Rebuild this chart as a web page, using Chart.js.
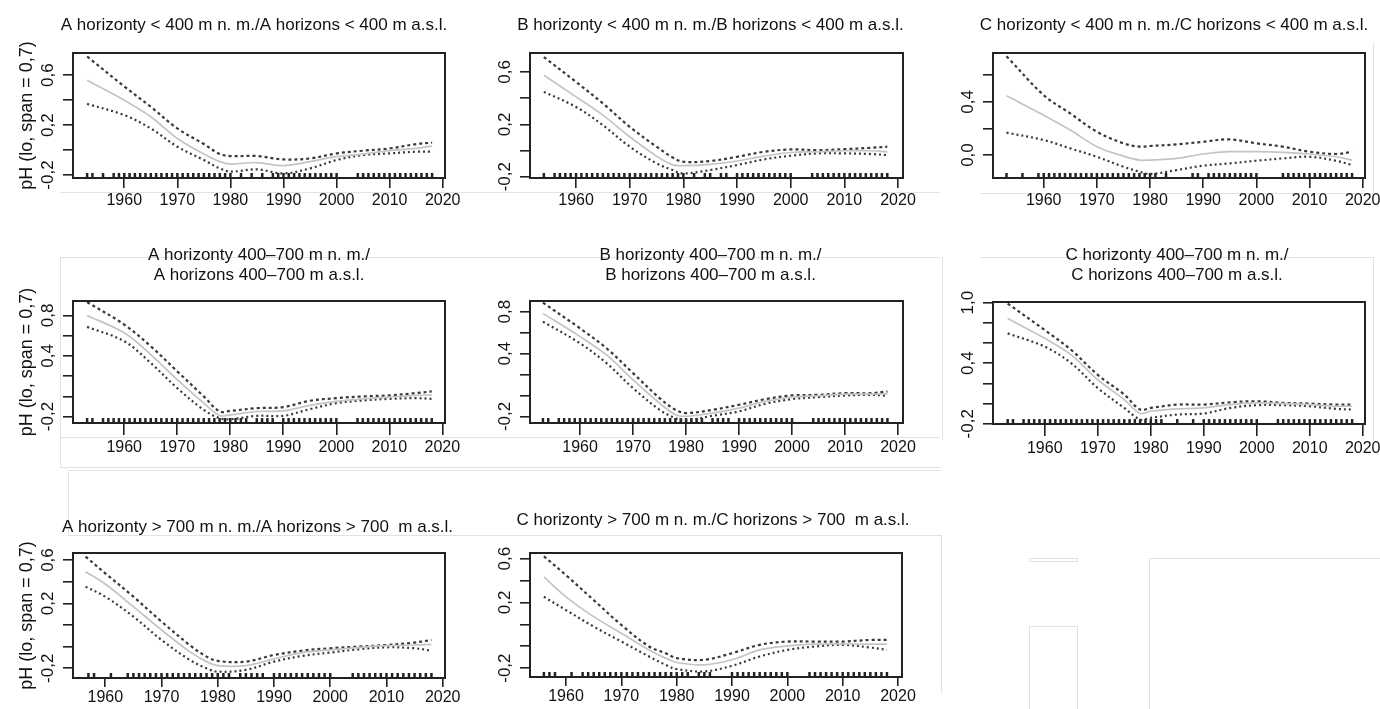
<!DOCTYPE html>
<html>
<head>
<meta charset="utf-8">
<title>pH trends by horizon and altitude</title>
<script src="https://cdn.jsdelivr.net/npm/chart.js@4.4.1/dist/chart.umd.min.js"></script>
<style>
  html, body { margin: 0; padding: 0; background: #fff; }
  body { width: 1380px; height: 709px; position: relative; overflow: hidden; }
  .panel { position: absolute; }
  .hl, .vl { position: absolute; background: #e2e2e2; }
  .hl { height: 1px; }
  .vl { width: 1px; }
  .gbox { position: absolute; border: 1px solid #e2e2e2; box-sizing: border-box; }
</style>
</head>
<body>
<!-- faint leftovers of the figure layout -->
<div class="hl" style="left:60px;top:192px;width:880px"></div>
<div class="hl" style="left:980px;top:193px;width:393px"></div>
<div class="vl" style="left:1373px;top:43px;height:150px"></div>
<div class="hl" style="left:60px;top:257px;width:880px"></div>
<div class="hl" style="left:980px;top:257px;width:393px"></div>
<div class="vl" style="left:60px;top:257px;height:210px"></div>
<div class="vl" style="left:942px;top:257px;height:183px"></div>
<div class="vl" style="left:1373px;top:257px;height:183px"></div>
<div class="hl" style="left:60px;top:437px;width:880px"></div>
<div class="hl" style="left:60px;top:467px;width:881px"></div>
<div class="hl" style="left:68px;top:470px;width:872px"></div>
<div class="hl" style="left:68px;top:535px;width:873px"></div>
<div class="vl" style="left:68px;top:470px;height:65px"></div>
<div class="vl" style="left:941px;top:535px;height:158px"></div>
<div class="gbox" style="left:1029px;top:558px;width:49px;height:4px"></div>
<div class="gbox" style="left:1029px;top:626px;width:49px;height:90px"></div>
<div class="gbox" style="left:1149px;top:558px;width:240px;height:160px"></div>

<script>
// sample years of the loess curves
const years1953 = [1953, 1960, 1965, 1970, 1975, 1978, 1980, 1985, 1990, 1995, 2000, 2005, 2010, 2015, 2018];
const years1954 = [1954, 1960, 1965, 1970, 1975, 1978, 1980, 1985, 1990, 1995, 2000, 2005, 2010, 2015, 2018];
const years1956 = [1956, 1960, 1965, 1970, 1975, 1978, 1980, 1985, 1990, 1995, 2000, 2005, 2010, 2015, 2018];
const years1957 = [1956.5, 1960, 1965, 1970, 1975, 1978, 1980, 1985, 1990, 1995, 2000, 2005, 2010, 2015, 2018];
const xTicks = [1960, 1970, 1980, 1990, 2000, 2010, 2020];

// y ticks and their printed labels
const yTicks06 = [0.6, 0.4, 0.2, 0, -0.2];
const yLabels06 = ['0,6', '', '0,2', '', '-0,2'];
const yTicksC = [0.6, 0.4, 0.2, 0];
const yLabelsC = ['', '0,4', '', '0,0'];
const yTicks08 = [0.8, 0.6, 0.4, 0.2, 0, -0.2];
const yLabels08 = ['0,8', '', '0,4', '', '', '-0,2'];
const yTicks10 = [1.0, 0.8, 0.6, 0.4, 0.2, 0, -0.2];
const yLabels10 = ['1,0', '', '', '0,4', '', '', '-0,2'];
const yTicks700 = [0.6, 0.44, 0.28, 0.12, -0.04, -0.2];
const yLabels700 = ['0,6', '', '0,2', '', '', '-0,2'];

// A horizons < 400 m
const fitA400 = [0.56, 0.40, 0.267, 0.093, -0.032, -0.093, -0.112, -0.10, -0.125, -0.093, -0.053, -0.032, -0.005, 0.013, 0.032];
const upA400 = [0.75, 0.51, 0.347, 0.173, 0.048, -0.032, -0.048, -0.048, -0.075, -0.067, -0.027, -0.005, 0.013, 0.048, 0.059];
const loA400 = [0.37, 0.28, 0.173, 0.027, -0.08, -0.147, -0.173, -0.155, -0.187, -0.147, -0.08, -0.04, -0.027, -0.013, -0.013];
const rugA400 = [1953, 1954, 1956, 1958, 1959, 1960, 1961, 1962, 1963, 1964, 1965, 1966, 1967, 1968, 1969, 1970, 1971, 1972, 1973, 1974, 1975, 1976, 1977, 1978, 1979, 1980, 1982, 1984, 1986, 1988, 1989, 1990, 1991, 1992, 1993, 1994, 1995, 1996, 1997, 1998, 1999, 2000, 2004, 2005, 2006, 2007, 2008, 2009, 2010, 2011, 2012, 2013, 2014, 2015, 2016, 2017, 2018];

// B horizons < 400 m
const fitB400 = [0.575, 0.41, 0.27, 0.105, -0.043, -0.11, -0.116, -0.106, -0.08, -0.043, -0.015, -0.01, -0.002, -0.002, -0.01];
const upB400 = [0.714, 0.524, 0.36, 0.181, 0.029, -0.053, -0.086, -0.08, -0.048, -0.01, 0.008, 0.003, 0.01, 0.021, 0.029];
const loB400 = [0.448, 0.333, 0.194, 0.029, -0.098, -0.149, -0.175, -0.149, -0.111, -0.068, -0.04, -0.022, -0.022, -0.027, -0.035];
const rugB400 = [1954, 1956, 1957, 1958, 1959, 1960, 1961, 1962, 1963, 1964, 1965, 1966, 1967, 1968, 1969, 1970, 1971, 1972, 1973, 1974, 1975, 1976, 1977, 1978, 1979, 1980, 1982, 1984, 1985, 1987, 1988, 1990, 1991, 1992, 1993, 1994, 1995, 1996, 1997, 1998, 1999, 2000, 2004, 2005, 2006, 2007, 2008, 2009, 2010, 2011, 2012, 2013, 2014, 2015, 2016, 2017, 2018];

// C horizons < 400 m
const fitC400 = [0.445, 0.30, 0.188, 0.063, -0.008, -0.038, -0.038, -0.025, 0.008, 0.025, 0.025, 0.02, 0.008, -0.013, -0.038];
const upC400 = [0.743, 0.45, 0.3125, 0.175, 0.088, 0.063, 0.068, 0.08, 0.10, 0.118, 0.088, 0.063, 0.025, 0.008, 0.025];
const loC400 = [0.168, 0.113, 0.05, -0.013, -0.088, -0.125, -0.143, -0.113, -0.08, -0.063, -0.043, -0.025, -0.013, -0.043, -0.075];
const rugC400 = [1953, 1956, 1959, 1960, 1961, 1962, 1963, 1964, 1965, 1966, 1967, 1968, 1969, 1970, 1971, 1972, 1973, 1974, 1975, 1976, 1977, 1978, 1979, 1980, 1981, 1983, 1988, 1989, 1991, 1992, 1993, 1994, 1995, 1996, 1997, 1998, 1999, 2000, 2005, 2006, 2007, 2008, 2009, 2010, 2011, 2012, 2013, 2014, 2015, 2016, 2017, 2018];

// A horizons 400-700 m
const fitA700 = [0.80, 0.628, 0.413, 0.164, -0.068, -0.19, -0.183, -0.15, -0.144, -0.09, -0.05, -0.025, -0.008, 0.009, 0.015];
const upA700 = [0.932, 0.71, 0.495, 0.247, -0.001, -0.15, -0.144, -0.117, -0.107, -0.044, -0.018, -0.001, 0.009, 0.032, 0.048];
const loA700 = [0.687, 0.545, 0.33, 0.081, -0.134, -0.217, -0.227, -0.193, -0.193, -0.127, -0.068, -0.041, -0.025, -0.018, -0.025];
const rugA700 = [1953, 1954, 1956, 1957, 1958, 1959, 1960, 1961, 1962, 1963, 1964, 1965, 1966, 1967, 1968, 1969, 1970, 1971, 1972, 1973, 1974, 1975, 1976, 1977, 1978, 1979, 1980, 1981, 1982, 1983, 1985, 1986, 1987, 1988, 1990, 1991, 1992, 1993, 1994, 1995, 1996, 1997, 1998, 1999, 2000, 2004, 2005, 2006, 2007, 2008, 2009, 2010, 2011, 2012, 2013, 2014, 2015, 2016, 2017, 2018];

// B horizons 400-700 m
const fitB700 = [0.784, 0.562, 0.387, 0.149, -0.073, -0.184, -0.2, -0.168, -0.121, -0.057, -0.016, -0.003, 0.013, 0.013, 0.016];
const upB700 = [0.886, 0.641, 0.451, 0.213, -0.025, -0.137, -0.168, -0.137, -0.089, -0.035, 0.0, 0.006, 0.022, 0.022, 0.038];
const loB700 = [0.705, 0.498, 0.308, 0.07, -0.137, -0.216, -0.238, -0.194, -0.152, -0.079, -0.035, -0.016, 0.0, 0.006, -0.003];
const rugB700 = [1953, 1954, 1956, 1957, 1958, 1959, 1960, 1961, 1962, 1963, 1964, 1965, 1966, 1967, 1968, 1969, 1970, 1971, 1972, 1973, 1974, 1975, 1976, 1977, 1978, 1979, 1980, 1981, 1982, 1983, 1985, 1986, 1987, 1988, 1990, 1991, 1992, 1993, 1994, 1995, 1996, 1997, 1998, 1999, 2000, 2004, 2005, 2006, 2007, 2008, 2009, 2010, 2011, 2012, 2013, 2014, 2015, 2016, 2017, 2018];

// C horizons 400-700 m
const fitC700 = [0.843, 0.646, 0.482, 0.236, 0.039, -0.098, -0.075, -0.052, -0.043, -0.01, 0.007, 0.0, -0.01, -0.026, -0.026];
const upC700 = [0.99, 0.728, 0.531, 0.285, 0.089, -0.059, -0.043, -0.01, -0.01, 0.013, 0.023, 0.007, 0.0, -0.01, -0.01];
const loC700 = [0.695, 0.564, 0.40, 0.154, -0.043, -0.157, -0.141, -0.108, -0.098, -0.043, -0.016, -0.016, -0.026, -0.052, -0.059];
const rugC700 = [1953, 1954, 1956, 1957, 1958, 1959, 1960, 1961, 1962, 1963, 1964, 1965, 1966, 1967, 1968, 1969, 1970, 1971, 1972, 1973, 1974, 1975, 1976, 1977, 1978, 1979, 1980, 1981, 1982, 1985, 1988, 1990, 1991, 1992, 1993, 1994, 1995, 1996, 1997, 1998, 1999, 2000, 2004, 2005, 2006, 2007, 2008, 2009, 2010, 2011, 2012, 2013, 2014, 2015, 2016, 2017, 2018];

// A horizons > 700 m
const fitAhi = [0.514, 0.423, 0.255, 0.083, -0.077, -0.151, -0.18, -0.18, -0.131, -0.084, -0.065, -0.047, -0.033, -0.028, -0.023];
const upAhi = [0.625, 0.502, 0.329, 0.145, -0.028, -0.114, -0.146, -0.151, -0.102, -0.07, -0.052, -0.04, -0.028, -0.01, 0.009];
const loAhi = [0.403, 0.329, 0.182, 0.009, -0.138, -0.2, -0.225, -0.212, -0.151, -0.109, -0.084, -0.06, -0.045, -0.052, -0.07];
const rugAhi = [1957, 1958, 1961, 1964, 1965, 1966, 1967, 1968, 1969, 1970, 1971, 1972, 1973, 1974, 1975, 1976, 1977, 1978, 1979, 1980, 1981, 1982, 1984, 1985, 1986, 1987, 1988, 1990, 1991, 1992, 1993, 1994, 1995, 1996, 1997, 1998, 1999, 2000, 2004, 2005, 2006, 2007, 2008, 2009, 2010, 2011, 2012, 2013, 2014, 2015, 2016, 2017, 2018];

// C horizons > 700 m
const fitChi = [0.467, 0.321, 0.176, 0.055, -0.067, -0.127, -0.159, -0.176, -0.139, -0.067, -0.038, -0.025, -0.023, -0.025, -0.025];
const upChi = [0.617, 0.479, 0.297, 0.115, -0.042, -0.091, -0.127, -0.139, -0.091, -0.03, -0.006, -0.006, -0.006, 0.006, 0.006];
const loChi = [0.321, 0.224, 0.103, -0.006, -0.115, -0.176, -0.207, -0.224, -0.183, -0.115, -0.067, -0.042, -0.03, -0.05, -0.067];
const rugChi = [1956, 1957, 1958, 1961, 1963, 1964, 1965, 1966, 1967, 1968, 1969, 1970, 1971, 1972, 1973, 1974, 1975, 1976, 1977, 1978, 1979, 1980, 1981, 1982, 1984, 1985, 1986, 1990, 1991, 1992, 1993, 1994, 1995, 1996, 1997, 1998, 1999, 2000, 2004, 2005, 2006, 2007, 2008, 2009, 2010, 2011, 2012, 2013, 2014, 2015, 2016, 2017, 2018];

const FONT = '"Liberation Sans", Arial, Helvetica, sans-serif';
Chart.defaults.font.family = FONT;
Chart.defaults.color = '#111';

// box: [left, top, right, bottom] of the plot frame in page pixels
const panels = [
  { title: 'A horizonty < 400 m n. m./A horizons < 400 m a.s.l.', years: years1953, fit: fitA400, up: upA400, lo: loA400, rug: rugA400,
    yTicks: yTicks06, yLabels: yLabels06, x: [1950.34, 2020.43], y: [-0.224, 0.778],
    box: [73, 53, 445, 178], top: 0, titleY: 25, shift: 5, xTick: 10, xPad: 3, yTitle: true },
  { title: 'B horizonty < 400 m n. m./B horizons < 400 m a.s.l.', years: years1954, fit: fitB400, up: upB400, lo: loB400, rug: rugB400,
    yTicks: yTicks06, yLabels: yLabels06, x: [1951.42, 2020.93], y: [-0.21, 0.745],
    box: [530, 53, 903, 178], top: 0, titleY: 25, shift: 6, xTick: 10, xPad: 3 },
  { title: 'C horizonty < 400 m n. m./C horizons < 400 m a.s.l.', years: years1953, fit: fitC400, up: upC400, lo: loC400, rug: rugC400,
    yTicks: yTicksC, yLabels: yLabelsC, x: [1950.46, 2020.43], y: [-0.1725, 0.767],
    box: [993, 53, 1365, 178], top: 0, titleY: 25, shift: 5, xTick: 10, xPad: 3 },
  { title: ['A horizonty 400–700 m n. m./', 'A horizons 400–700 m a.s.l.'], years: years1953, fit: fitA700, up: upA700, lo: loA700, rug: rugA700,
    yTicks: yTicks08, yLabels: yLabels08, x: [1950.34, 2020.5], y: [-0.264, 0.943],
    box: [73, 301, 445, 423], top: 240, titleY: 255, shift: 0, xTick: 12, xPad: 2.5, yTitle: true },
  { title: ['B horizonty 400–700 m n. m./', 'B horizons 400–700 m a.s.l.'], years: years1953, fit: fitB700, up: upB700, lo: loB700, rug: rugB700,
    yTicks: yTicks08, yLabels: yLabels08, x: [1950.56, 2020.94], y: [-0.263, 0.902],
    box: [530, 301, 903, 423], top: 240, titleY: 255, shift: 6, xTick: 12, xPad: 2.5 },
  { title: ['C horizonty 400–700 m n. m./', 'C horizons 400–700 m a.s.l.'], years: years1953, fit: fitC700, up: upC700, lo: loC700, rug: rugC700,
    yTicks: yTicks10, yLabels: yLabels10, x: [1950.23, 2020.43], y: [-0.202, 1.006],
    box: [993, 302, 1365, 424], top: 240, titleY: 255, shift: 2, xTick: 12, xPad: 2.5 },
  { title: 'A horizonty > 700 m n. m./A horizons > 700  m a.s.l.', years: years1957, fit: fitAhi, up: upAhi, lo: loAhi, rug: rugAhi,
    yTicks: yTicks700, yLabels: yLabels700, x: [1954.26, 2020.41], y: [-0.272, 0.652],
    box: [73, 553, 445, 678], top: 460, titleY: 527, shift: 1.5, xTick: 9, xPad: 1, yTitle: true },
  { title: 'C horizonty > 700 m n. m./C horizons > 700  m a.s.l.', years: years1956, fit: fitChi, up: upChi, lo: loChi, rug: rugChi,
    yTicks: yTicks700, yLabels: yLabels700, x: [1953.49, 2020.72], y: [-0.265, 0.641],
    box: [530, 553, 902, 677], top: 460, titleY: 520, shift: 3, xTick: 9, xPad: 1 }
];

// frame round the plotting region, drawn like R's box()
const framePlugin = {
  id: 'frame',
  afterDatasetsDraw(chart) {
    const { ctx, chartArea: a } = chart;
    ctx.save();
    ctx.strokeStyle = '#222';
    ctx.lineWidth = 2;
    ctx.strokeRect(a.left, a.top, a.right - a.left, a.bottom - a.top);
    ctx.restore();
  }
};

const measure = document.createElement('canvas').getContext('2d');
measure.font = '17px ' + FONT;

const LEFT = 75, BOTTOM = 40, LINE_H = 17 * 1.2;

panels.forEach(p => {
  const [l, t, r, b] = p.box;
  const rightW = LEFT - 2 * p.shift;   // empty right axis keeps the title centred over the frame
  const div = document.createElement('div');
  div.className = 'panel';
  div.style.left = (l - LEFT) + 'px';
  div.style.top = p.top + 'px';
  div.style.width = (r - l + LEFT + rightW) + 'px';
  div.style.height = (b - p.top + BOTTOM) + 'px';
  const canvas = document.createElement('canvas');
  div.appendChild(canvas);
  document.body.appendChild(div);

  const lines = Array.isArray(p.title) ? p.title.length : 1;
  const titleTop = p.titleY - p.top - LINE_H / 2;
  const titleBottom = t - p.top - titleTop - lines * LINE_H;
  const widest = Math.max(...p.yLabels.map(s => measure.measureText(s).width));
  const rugY = p.y[0] + (p.y[1] - p.y[0]) * 0.02;
  const pts = arr => p.years.map((yr, i) => ({ x: yr, y: arr[i] }));

  new Chart(canvas, {
    type: 'line',
    data: {
      datasets: [
        { data: pts(p.fit), borderColor: '#c4c4c4', borderWidth: 1.7, pointRadius: 0, tension: 0.35 },
        { data: pts(p.up), borderColor: '#383838', borderWidth: 2.2, borderDash: [3, 3], pointRadius: 0, tension: 0.35 },
        { data: pts(p.lo), borderColor: '#383838', borderWidth: 2.2, borderDash: [2, 3], pointRadius: 0, tension: 0.35 },
        { type: 'scatter', data: p.rug.map(yr => ({ x: yr, y: rugY })), showLine: false,
          pointStyle: 'line', rotation: 90, pointRadius: 2.5, borderColor: '#222', borderWidth: 2.5 }
      ]
    },
    options: {
      responsive: true,
      maintainAspectRatio: false,
      animation: false,
      events: [],
      layout: { padding: 0 },
      plugins: {
        legend: { display: false },
        tooltip: { enabled: false },
        title: { display: true, text: p.title, color: '#111', font: { size: 17, weight: 'normal', lineHeight: 1.2 },
                 padding: { top: titleTop, bottom: titleBottom } }
      },
      scales: {
        x: {
          type: 'linear', min: p.x[0], max: p.x[1],
          afterBuildTicks: s => { s.ticks = xTicks.map(v => ({ value: v })); },
          afterFit: s => { s.height = BOTTOM; },
          grid: { drawOnChartArea: false, tickLength: p.xTick, color: '#222', lineWidth: 1.6 },
          border: { display: false },
          ticks: { font: { size: 16 }, padding: p.xPad, maxRotation: 0, autoSkip: false, callback: v => String(v) }
        },
        y: {
          min: p.y[0], max: p.y[1],
          afterBuildTicks: s => { s.ticks = p.yTicks.map(v => ({ value: v })); },
          afterFit: s => { s.width = LEFT; },
          grid: { drawOnChartArea: false, tickLength: 10, color: '#222', lineWidth: 1.6 },
          border: { display: false },
          ticks: { font: { size: 17 }, minRotation: 90, maxRotation: 90, crossAlign: 'center',
                   padding: 15 - widest / 2, autoSkip: false, callback: (v, i) => p.yLabels[i] },
          title: { display: !!p.yTitle, text: 'pH (lo, span = 0,7)', font: { size: 18 }, color: '#111',
                   padding: { top: 18, bottom: 0 } }
        },
        right: {
          position: 'right', min: 0, max: 1,
          afterFit: s => { s.width = rightW; },
          grid: { display: false }, border: { display: false }, ticks: { display: false }
        }
      }
    },
    plugins: [framePlugin]
  });
});
</script>
</body>
</html>
